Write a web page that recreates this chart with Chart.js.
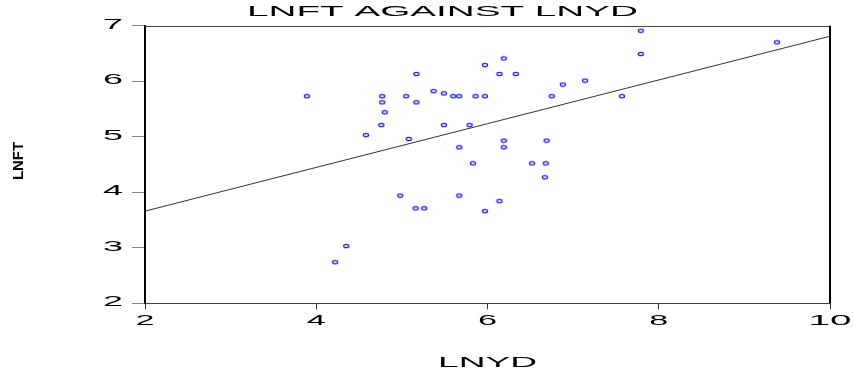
<!DOCTYPE html>
<html>
<head>
<meta charset="utf-8">
<script src="https://cdn.jsdelivr.net/npm/chart.js@4/dist/chart.umd.min.js"></script>
<style>
  html, body { margin: 0; padding: 0; background: #fff; }
  #wrap { width: 854px; height: 375px; position: relative; }
</style>
</head>
<body>
<div id="wrap"><canvas id="c" width="854" height="375"></canvas></div>
<script>
// Observations: log of yield (x) and log of FT (y)
const lnyd = [3.89, 4.77, 4.77, 4.80, 4.76, 4.58, 5.08, 5.05, 5.17, 5.17,
              5.37, 5.49, 5.60, 5.67, 5.86, 5.97, 5.49, 5.79, 5.67, 6.19,
              6.19, 6.69, 5.83, 6.52, 6.68, 5.97, 6.19, 6.14, 6.33, 6.88,
              6.75, 6.67, 4.98, 5.67, 6.14, 5.16, 5.26, 5.97, 4.35, 4.22,
              7.14, 7.79, 7.79, 7.57, 9.38];
const lnft = [5.73, 5.73, 5.62, 5.44, 5.21, 5.03, 4.96, 5.73, 5.62, 6.13,
              5.82, 5.78, 5.73, 5.73, 5.73, 5.73, 5.21, 5.21, 4.81, 4.93,
              4.81, 4.93, 4.52, 4.52, 4.52, 6.29, 6.41, 6.13, 6.13, 5.94,
              5.73, 4.27, 3.94, 3.94, 3.84, 3.71, 3.71, 3.66, 3.03, 2.74,
              6.01, 6.91, 6.49, 5.73, 6.70];

// Fitted regression line end points
const fitX = [2, 10];
const fitY = [3.66, 6.81];

// Axis tick labels
const xTickLabels = [2, 4, 6, 8, 10];
const yTickLabels = [2, 3, 4, 5, 6, 7];

const chartTitle = 'LNFT AGAINST LNYD';
const xTitle = 'LNYD';
const yTitle = 'LNFT';

// Small hollow elliptical marker
function makeMarker() {
  const m = document.createElement('canvas');
  m.width = 8; m.height = 6;
  const g = m.getContext('2d');
  g.strokeStyle = 'rgb(20,20,255)';
  g.lineWidth = 1.2;
  g.beginPath();
  g.ellipse(4, 3, 2.6, 1.6, 0, 0, Math.PI * 2);
  g.stroke();
  return m;
}

// Draw text stretched horizontally to a given width
function stretchedText(ctx, text, x, y, width, font, align) {
  ctx.save();
  ctx.font = font;
  const w = ctx.measureText(text).width;
  const sx = width / w;
  ctx.translate(x, y);
  ctx.scale(sx, 1);
  ctx.textAlign = align || 'center';
  ctx.textBaseline = 'alphabetic';
  ctx.fillText(text, 0, 0);
  ctx.restore();
}

const FONT = '15px "Liberation Sans", Arial, sans-serif';

const decorations = {
  id: 'decorations',
  afterDraw(chart) {
    const ctx = chart.ctx;
    const a = chart.chartArea;
    const xs = chart.scales.x, ys = chart.scales.y;
    ctx.save();
    // frame: thin top, heavy right
    ctx.strokeStyle = '#444';
    ctx.lineWidth = 1;
    ctx.beginPath();
    ctx.moveTo(a.left, Math.round(a.top) + 0.5);
    ctx.lineTo(a.right, Math.round(a.top) + 0.5);
    ctx.stroke();
    ctx.strokeStyle = '#000';
    ctx.lineWidth = 2;
    ctx.beginPath();
    ctx.moveTo(a.right, a.top);
    ctx.lineTo(a.right, a.bottom);
    ctx.stroke();

    ctx.fillStyle = '#000';
    // x tick labels
    xTickLabels.forEach(v => {
      const s = String(v);
      const w = 19 * s.length + 5 * (s.length - 1);
      stretchedText(ctx, s, xs.getPixelForValue(v), a.bottom + 22, w, FONT, 'center');
    });
    // y tick labels
    yTickLabels.forEach(v => {
      const s = String(v);
      stretchedText(ctx, s, 123, ys.getPixelForValue(v) + 3, 20, FONT, 'right');
    });
    // titles
    stretchedText(ctx, chartTitle, 442.5, 16, 391, FONT, 'center');
    stretchedText(ctx, xTitle, (a.left + a.right) / 2, 367, 99, FONT, 'center');
    ctx.save();
    ctx.translate(23, 161);
    ctx.rotate(-Math.PI / 2);
    stretchedText(ctx, yTitle, 0, 0, 38, 'bold 15px "Liberation Sans", Arial, sans-serif', 'center');
    ctx.restore();
    ctx.restore();
  }
};

const points = lnyd.map((x, i) => ({ x: x, y: lnft[i] }));
const fitLine = fitX.map((x, i) => ({ x: x, y: fitY[i] }));

new Chart(document.getElementById('c'), {
  type: 'scatter',
  data: {
    datasets: [
      {
        label: 'Fit',
        type: 'line',
        data: fitLine,
        borderColor: '#333',
        borderWidth: 1,
        pointRadius: 0,
        fill: false,
        order: 2
      },
      {
        label: 'LNFT',
        data: points,
        pointStyle: makeMarker(),
        pointRadius: 3,
        order: 1
      }
    ]
  },
  options: {
    responsive: false,
    animation: false,
    devicePixelRatio: 1,
    layout: { padding: { left: 0, right: 24, top: 25.7, bottom: 0 } },
    plugins: {
      legend: { display: false },
      tooltip: { enabled: false },
      title: { display: false }
    },
    scales: {
      x: {
        type: 'linear',
        min: 2, max: 10,
        ticks: { stepSize: 2, display: false },
        grid: { drawOnChartArea: false, drawTicks: true, tickLength: 6, color: '#333', lineWidth: 1 },
        border: { display: true, color: '#444', width: 1 },
        afterFit(s) { s.height = 375 - 303.3; }
      },
      y: {
        type: 'linear',
        min: 2, max: 7,
        ticks: { stepSize: 1, display: false },
        grid: { drawOnChartArea: false, drawTicks: true, tickLength: 13, color: '#888', lineWidth: 1 },
        border: { display: true, color: '#000', width: 2 },
        afterFit(s) { s.width = 145; }
      }
    }
  },
  plugins: [decorations]
});
</script>
</body>
</html>
